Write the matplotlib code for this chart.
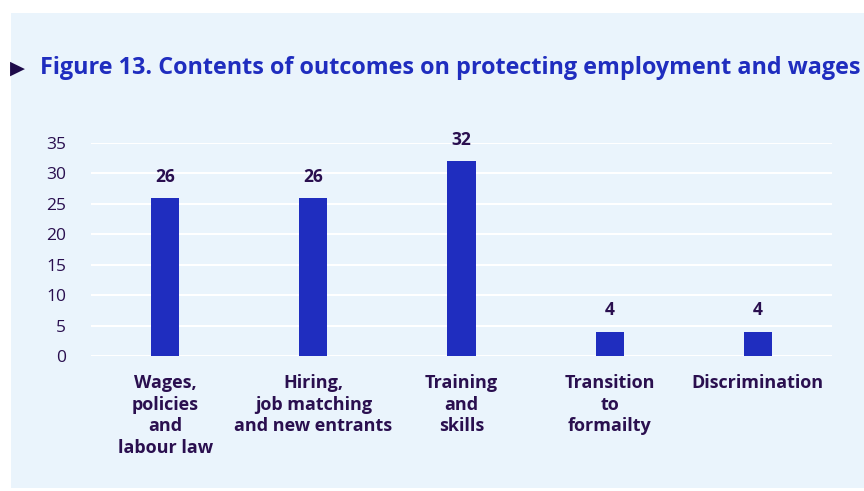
import matplotlib.pyplot as plt
import matplotlib.patches as mpatches
import numpy as np

plt.rcParams['font.family'] = ['Open Sans', 'DejaVu Sans']

categories = ["Wages,\npolicies\nand\nlabour law",
              "Hiring,\njob matching\nand new entrants",
              "Training\nand\nskills",
              "Transition\nto\nformailty",
              "Discrimination"]
values = [26, 26, 32, 4, 4]

bg = "#EAF4FC"
bar_color = "#1F2DBF"
text_color = "#2A0F4F"

fig = plt.figure(figsize=(8.64, 4.91), dpi=100)
fig.patch.set_facecolor("white")
fig.patches.append(mpatches.Rectangle((11 / 864, 3 / 491), 1, 475 / 491,
                                      transform=fig.transFigure, facecolor=bg,
                                      edgecolor="none", zorder=-1))

ax = fig.add_axes([91 / 864, 135 / 491, 741 / 864, 213 / 491])
ax.set_facecolor(bg)
x = np.arange(len(categories))
bars = ax.bar(x, values, width=0.19, color=bar_color, zorder=3)
for b, v in zip(bars, values):
    ax.text(b.get_x() + b.get_width() / 2, v + 2.0, str(v), ha="center", va="bottom",
            fontsize=12.5, fontweight="bold", color=text_color)

ax.set_xlim(-0.5, 4.5)
ax.set_ylim(0, 35)
ax.set_yticks(range(0, 36, 5))
ax.grid(axis="y", color="white", linewidth=1.5, zorder=0)
ax.set_xticks(x)
ax.set_xticklabels(categories, fontsize=13, fontweight="bold", color=text_color,
                   linespacing=1.25, va="top")
ax.tick_params(axis="x", length=0, pad=13)
ax.tick_params(axis="y", length=0, pad=18, labelsize=12.5, labelcolor=text_color)
for s in ax.spines.values():
    s.set_visible(False)

fig.text(40 / 864, 1 - 68 / 491, "Figure 13. Contents of outcomes on protecting employment and wages",
         fontsize=16.85, fontweight="bold", color=bar_color, va="center", ha="left")
fig.text(10 / 864, 1 - 68 / 491, "\u25B6", fontsize=14, color="#1E0B4A", va="center", ha="left",
         family=["DejaVu Sans"])

fig.savefig("out.png", dpi=100, facecolor=fig.get_facecolor())
